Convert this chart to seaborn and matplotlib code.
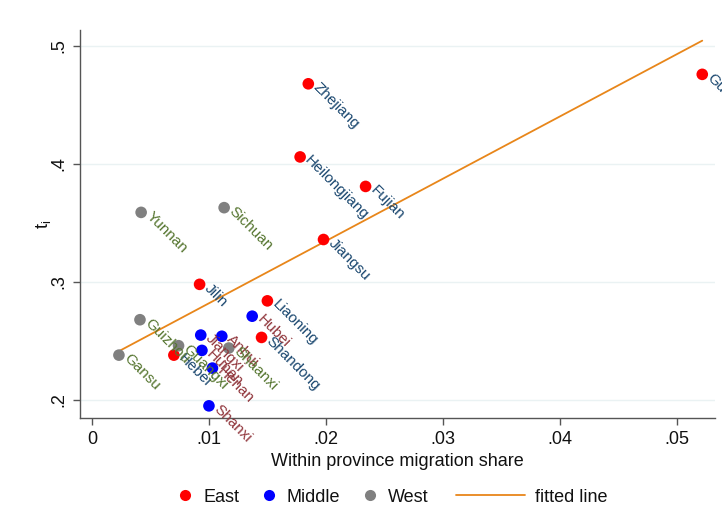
import numpy as np
import pandas as pd
import matplotlib
matplotlib.use("Agg")
import matplotlib.pyplot as plt
import seaborn as sns
from matplotlib.lines import Line2D

# Province data: within-province migration share vs. t_i
provinces = ["Guangdong", "Zhejiang", "Heilongjiang", "Fujian", "Jiangsu", "Jilin",
             "Liaoning", "Shandong", "Hebei",
             "Hubei", "Jiangxi", "Anhui", "Hunan", "Henan", "Shanxi",
             "Yunnan", "Sichuan", "Guizhou", "Guangxi", "Shaanxi", "Gansu"]
regions = ["East"] * 9 + ["Middle"] * 6 + ["West"] * 6
share = [0.0522, 0.0185, 0.0178, 0.0234, 0.0198, 0.0092,
         0.0150, 0.0145, 0.0070,
         0.0137, 0.0093, 0.0111, 0.0094, 0.0103, 0.0100,
         0.0042, 0.0113, 0.0041, 0.0074, 0.0117, 0.0023]
t_i = [0.476, 0.468, 0.406, 0.381, 0.336, 0.298,
       0.284, 0.253, 0.238,
       0.271, 0.255, 0.254, 0.242, 0.227, 0.195,
       0.359, 0.363, 0.268, 0.246, 0.244, 0.238]

region_order = ["East", "Middle", "West"]
marker_colors = {"East": "#ff0000", "Middle": "#0000ff", "West": "#808080"}
label_colors = {"East": "#1a476f", "Middle": "#90353b", "West": "#55752f"}
line_color = "#e8861a"

df = pd.DataFrame({"province": provinces, "region": regions, "share": share, "t": t_i})

# Linear fit over the observed range
slope, intercept = np.polyfit(df["share"], df["t"], 1)
xs = np.array([df["share"].min(), df["share"].max()])
fit = pd.DataFrame({"share": xs, "t": intercept + slope * xs})

sns.set_theme(style="white")
plt.rcParams["font.family"] = ["Liberation Sans", "DejaVu Sans"]

fig = plt.figure(figsize=(7.22, 5.31), dpi=100)
ax = fig.add_axes([80 / 722, 1 - 418 / 531, 635 / 722, 388 / 531])

ax.set_xlim(-0.00103, 0.05329)
ax.set_ylim(0.1847, 0.5136)
ax.set_yticks([0.2, 0.3, 0.4, 0.5])
ax.set_xticks([0, 0.01, 0.02, 0.03, 0.04, 0.05])
ax.set_yticklabels([".2", ".3", ".4", ".5"], rotation=90, va="center")
ax.set_xticklabels(["0", ".01", ".02", ".03", ".04", ".05"])
ax.grid(axis="y", color="#eaf2f3", linewidth=1.0)
ax.set_axisbelow(True)

sns.lineplot(data=fit, x="share", y="t", color=line_color, linewidth=1.3, ax=ax, legend=False)
sns.scatterplot(data=df, x="share", y="t", hue="region", hue_order=region_order,
                palette=marker_colors, s=70, edgecolor="none", linewidth=0, ax=ax,
                legend=False, zorder=3)

for _, r in df.iterrows():
    ax.annotate(r["province"], (r["share"], r["t"]), xytext=(5, -1), textcoords="offset points",
                rotation=-45, rotation_mode="anchor", ha="left", va="center",
                fontsize=11, color=label_colors[r["region"]], annotation_clip=False)

for s in ["top", "right"]:
    ax.spines[s].set_visible(False)
for s in ["left", "bottom"]:
    ax.spines[s].set_color("#555555")
    ax.spines[s].set_linewidth(1.0)
ax.tick_params(axis="both", which="major", direction="out", length=5, width=1,
               color="#555555", labelsize=13, labelcolor="#111111", pad=4,
               left=True, bottom=True)

ax.set_xlabel("Within province migration share", fontsize=13, color="#111111", labelpad=4)
ax.set_ylabel(r"t$_\mathregular{i}$", fontsize=13, color="#111111", labelpad=-2)

# Legend: region markers, then the fitted line with a longer key
marker_handles = [Line2D([], [], marker="o", linestyle="none", markersize=8,
                         markerfacecolor=marker_colors[k], markeredgecolor="none", label=k)
                  for k in region_order]
fig.legend(handles=marker_handles, loc="center left",
           bbox_to_anchor=(176 / 722, 1 - 497 / 531), ncol=3, frameon=False,
           fontsize=13, handlelength=1.0, handletextpad=0.5, columnspacing=1.15,
           borderpad=0, borderaxespad=0, labelcolor="#111111")
line_handle = [Line2D([], [], color=line_color, linewidth=1.3, label="fitted line")]
fig.legend(handles=line_handle, loc="center left",
           bbox_to_anchor=(456 / 722, 1 - 497 / 531), frameon=False,
           fontsize=13, handlelength=3.8, handletextpad=0.6,
           borderpad=0, borderaxespad=0, labelcolor="#111111")

fig.savefig("out.png", dpi=100)
